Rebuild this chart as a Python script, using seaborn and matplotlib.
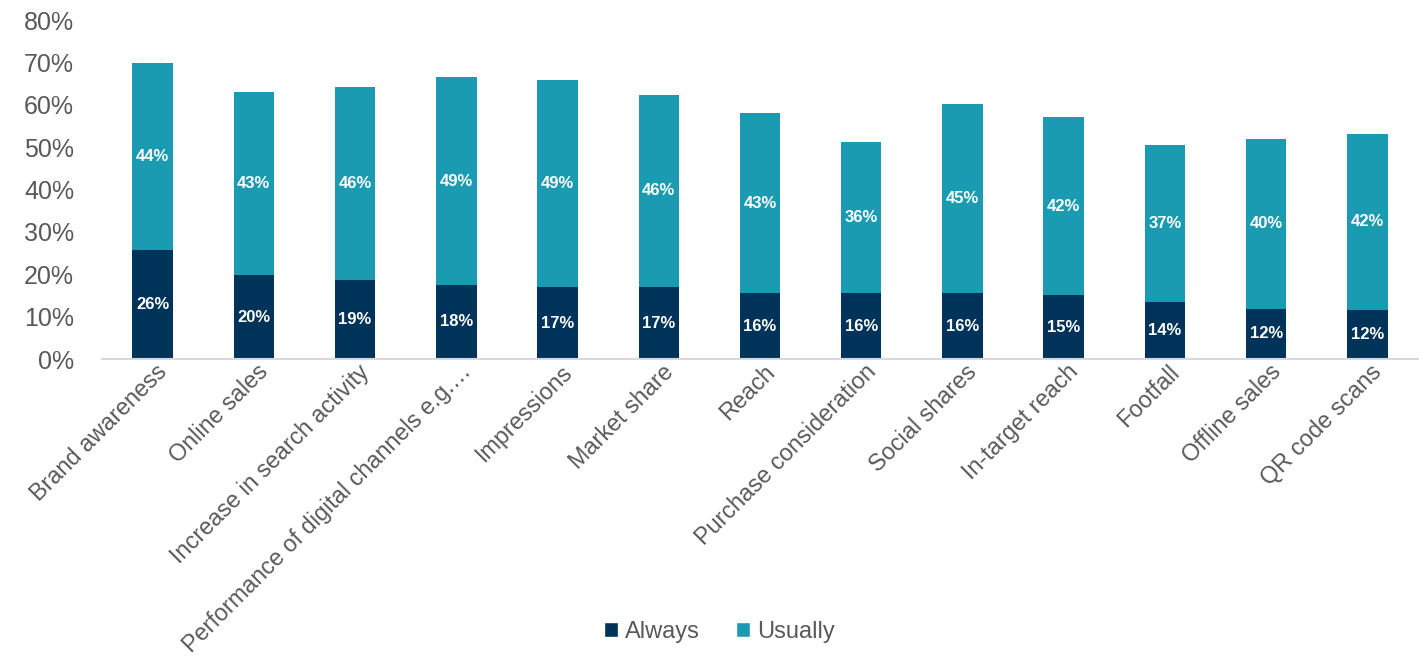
import pandas as pd
import matplotlib.pyplot as plt
import seaborn as sns
from matplotlib.patches import Patch
from matplotlib.transforms import ScaledTranslation

# Data
categories = ["Brand awareness", "Online sales", "Increase in search activity",
              "Performance of digital channels e.g.\u2026", "Impressions", "Market share",
              "Reach", "Purchase consideration", "Social shares", "In-target reach",
              "Footfall", "Offline sales", "QR code scans"]
always = [25.7, 19.8, 18.6, 17.5, 16.9, 16.9, 15.5, 15.5, 15.5, 15.0, 13.5, 11.9, 11.6]
usually = [44.2, 43.1, 45.6, 49.0, 48.9, 45.5, 42.6, 35.8, 44.6, 42.0, 37.0, 40.1, 41.5]

c_always = "#003359"
c_usually = "#1A9BB2"
txt = "#595959"

df = pd.DataFrame({"Category": categories, "Always": always, "Usually": usually})
df["Total"] = df["Always"] + df["Usually"]

sns.set_style("white")
plt.rcParams["font.family"] = ["Liberation Sans", "DejaVu Sans"]

fig = plt.figure(figsize=(14.19, 6.58), dpi=100)
ax = fig.add_axes([0.0719, 0.4544, 0.9274, 0.5152])

# stacked: draw totals first, then the bottom segment on top
sns.barplot(data=df, x="Category", y="Total", color=c_usually, width=0.4,
            saturation=1, ax=ax, edgecolor="none")
sns.barplot(data=df, x="Category", y="Always", color=c_always, width=0.4,
            saturation=1, ax=ax, edgecolor="none")

for i, (a, u) in enumerate(zip(always, usually)):
    ax.text(i, a / 2, f"{a:.0f}%", ha="center", va="center", color="white",
            fontsize=12, fontweight="bold")
    ax.text(i, a + u / 2, f"{u:.0f}%", ha="center", va="center", color="white",
            fontsize=12, fontweight="bold")

ax.set_ylim(0, 80)
ax.set_xlim(-0.5, len(categories) - 0.5)
ax.set_yticks(range(0, 81, 10))
ax.set_yticklabels([f"{v}%" for v in range(0, 81, 10)], fontsize=18, color=txt)
ax.set_xticks(range(len(categories)))
ax.set_xticklabels(categories, rotation=45, ha="right", rotation_mode="anchor",
                   fontsize=16.8, color=txt)
ax.tick_params(axis="y", length=0, pad=20)
ax.tick_params(axis="x", length=0, pad=1)
shift = ScaledTranslation(0.03, 0, fig.dpi_scale_trans)
for lab in ax.get_xticklabels():
    lab.set_transform(lab.get_transform() + shift)
ax.set_xlabel("")
ax.set_ylabel("")

sns.despine(ax=ax, left=True)
ax.spines["bottom"].set_color("#D9D9D9")
ax.spines["bottom"].set_linewidth(1.5)

handles = [Patch(facecolor=c_always, label="Always"),
           Patch(facecolor=c_usually, label="Usually")]
fig.legend(handles=handles, loc="center", bbox_to_anchor=(0.507, 0.04), ncol=2,
           frameon=False, fontsize=17, labelcolor=txt, handlelength=0.6,
           handleheight=0.6, handletextpad=0.3, columnspacing=1.5)

fig.savefig("out.png", dpi=100)
